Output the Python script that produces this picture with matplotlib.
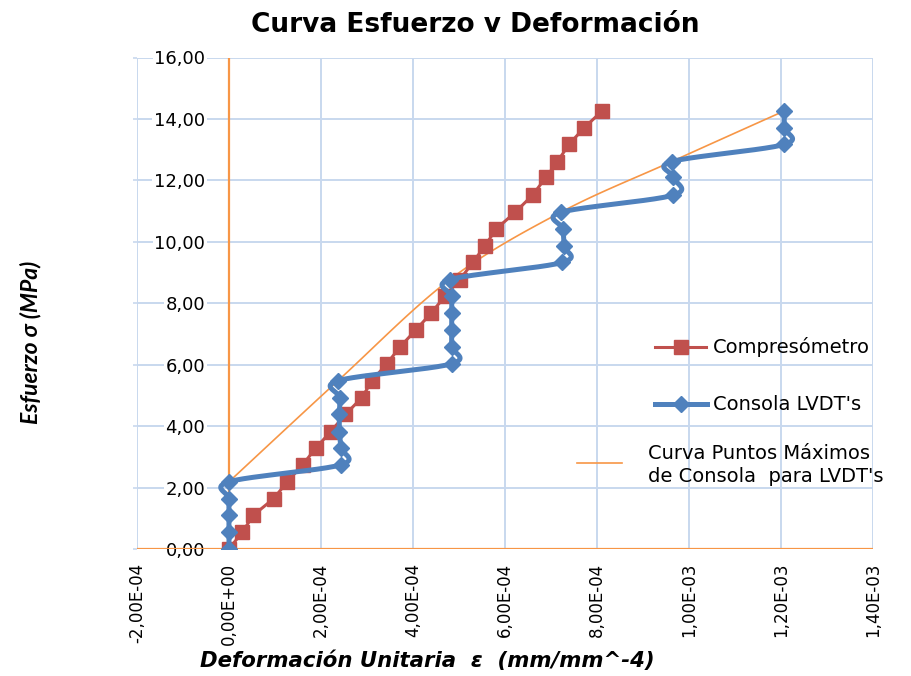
import numpy as np
import matplotlib
matplotlib.use("Agg")
import matplotlib.pyplot as plt
from matplotlib.lines import Line2D
from matplotlib.ticker import FuncFormatter

plt.rcParams["font.family"] = ["DejaVu Sans"]

# esfuerzo (MPa) por escalón de carga
esfuerzo = [0.00, 0.55, 1.10, 1.64, 2.19, 2.74, 3.29, 3.82, 4.38, 4.93, 5.48, 6.03, 6.58, 7.13,
            7.67, 8.22, 8.77, 9.33, 9.86, 10.42, 10.96, 11.52, 12.10, 12.61, 13.17, 13.71, 14.26]
# deformación unitaria, en unidades de 1e-4
def_compresometro = [0.00, 0.29, 0.53, 0.97, 1.27, 1.60, 1.89, 2.21, 2.53, 2.89, 3.11, 3.43, 3.72, 4.06,
                     4.39, 4.69, 5.02, 5.30, 5.56, 5.81, 6.22, 6.60, 6.89, 7.14, 7.39, 7.72, 8.11]
def_consola = [0.00, 0.00, 0.00, 0.00, 0.00, 2.43, 2.43, 2.40, 2.40, 2.41, 2.37, 4.84, 4.84, 4.84,
               4.84, 4.84, 4.80, 7.25, 7.28, 7.26, 7.21, 9.66, 9.66, 9.62, 12.07, 12.07, 12.07]
# puntos máximos de cada escalón de la consola
def_max = [0.00, 2.37, 4.80, 7.21, 9.62, 12.07]
esf_max = [2.19, 5.48, 8.77, 10.96, 12.61, 14.26]

x_ticks = [-2, 0, 2, 4, 6, 8, 10, 12, 14]
y_ticks = [0, 2, 4, 6, 8, 10, 12, 14, 16]

ROJO = "#C0504D"
AZUL = "#4F81BD"
NARANJA = "#F79646"
GRID = "#C8D8EE"


def suavizar(x, y, n=24):
    # curva tipo Excel: bezier cúbica con tangentes de Catmull-Rom
    p = np.column_stack([x, y]).astype(float)
    p = np.vstack([p[0], p, p[-1]])
    t = np.linspace(0, 1, n)[:, None]
    tramos = []
    for i in range(1, len(p) - 2):
        p0, p1, p2, p3 = p[i - 1], p[i], p[i + 1], p[i + 2]
        c1 = p1 + (p2 - p0) / 6
        c2 = p2 - (p3 - p1) / 6
        tramos.append((1 - t) ** 3 * p1 + 3 * (1 - t) ** 2 * t * c1
                      + 3 * (1 - t) * t ** 2 * c2 + t ** 3 * p2)
    c = np.vstack(tramos)
    return c[:, 0], c[:, 1]


fig = plt.figure(figsize=(9.12, 6.76), dpi=100)
W, H = 912, 676
ax = fig.add_axes([137 / W, 1 - 549 / H, (873 - 137) / W, (549 - 57.5) / H])

escala = 1e-4
xc = np.array(def_compresometro) * escala
xl = np.array(def_consola) * escala
xm = np.array(def_max) * escala

# ejes en cero
ax.axvline(0, color=NARANJA, lw=1.6, zorder=2)
ax.axhline(0, color=NARANJA, lw=1.6, zorder=2)

sx, sy = suavizar(xm, esf_max)
ax.plot(sx, sy, color=NARANJA, lw=1.2, zorder=3)

ax.plot(xc, esfuerzo, color=ROJO, lw=2.2, marker="s", ms=9.5, mec=ROJO, mfc=ROJO, zorder=4)

bx, by = suavizar(xl, esfuerzo)
ax.plot(bx, by, color=AZUL, lw=3.6, solid_capstyle="round", zorder=5)
ax.plot(xl, esfuerzo, ls="none", marker="D", ms=8.5, mec=AZUL, mfc=AZUL, zorder=6)

ax.set_xlim(-2e-4, 1.4e-3)
ax.set_ylim(0, 16)
ax.set_xticks(np.array(x_ticks) * escala)
ax.set_yticks(y_ticks)
ax.xaxis.set_major_formatter(FuncFormatter(lambda v, p: f"{v:.2E}".replace(".", ",")))
ax.yaxis.set_major_formatter(FuncFormatter(lambda v, p: f"{v:.2f}".replace(".", ",")))

for s in ax.spines.values():
    s.set_visible(False)
ax.grid(True, color=GRID, lw=1.4)
ax.tick_params(axis="y", direction="out", length=3, color=GRID, width=1.2,
               labelsize=13, pad=-52)
ax.tick_params(axis="x", length=0, labelsize=12, pad=10, labelrotation=90)

# las líneas de rejilla en cero quedan bajo los ejes naranjas
ax.xaxis.get_gridlines()[1].set_visible(False)
ax.yaxis.get_gridlines()[0].set_visible(False)
for t in ax.get_yticklabels():
    t.set_bbox(dict(facecolor="white", edgecolor="none", pad=1))

# leyenda
tl = ax.transAxes
ax.add_line(Line2D([0.704, 0.773], [0.411, 0.411], color=ROJO, lw=2.2, transform=tl))
ax.add_line(Line2D([0.7385], [0.411], color=ROJO, marker="s", ms=9.5, transform=tl))
ax.text(0.783, 0.411, "Compresómetro", transform=tl, fontsize=14, va="center", ha="left")
ax.add_line(Line2D([0.704, 0.774], [0.295, 0.295], color=AZUL, lw=3.6, transform=tl))
ax.add_line(Line2D([0.739], [0.295], color=AZUL, marker="D", ms=8.5, transform=tl))
ax.text(0.783, 0.295, "Consola LVDT's", transform=tl, fontsize=14, va="center", ha="left")
ax.add_line(Line2D([0.598, 0.659], [0.175, 0.175], color=NARANJA, lw=1.2, transform=tl))
ax.text(0.694, 0.171, "Curva Puntos Máximos\nde Consola  para LVDT's", transform=tl,
        fontsize=14, va="center", ha="left", linespacing=1.25)

fig.text(475 / W, 1 - 25 / H, "Curva Esfuerzo v Deformación", ha="center", va="center",
         fontsize=19, fontweight="bold")
fig.text(31 / W, 1 - 342 / H, "Esfuerzo σ (MPa)", ha="center", va="center", rotation=90,
         fontsize=16.5, fontweight="bold", fontstyle="italic", family=["Lato", "DejaVu Sans"])
fig.text(427 / W, 1 - 661 / H, "Deformación Unitaria  ε  (mm/mm^-4)", ha="center", va="center",
         fontsize=15.3, fontweight="bold", fontstyle="italic")

fig.savefig("out.png", dpi=100)
